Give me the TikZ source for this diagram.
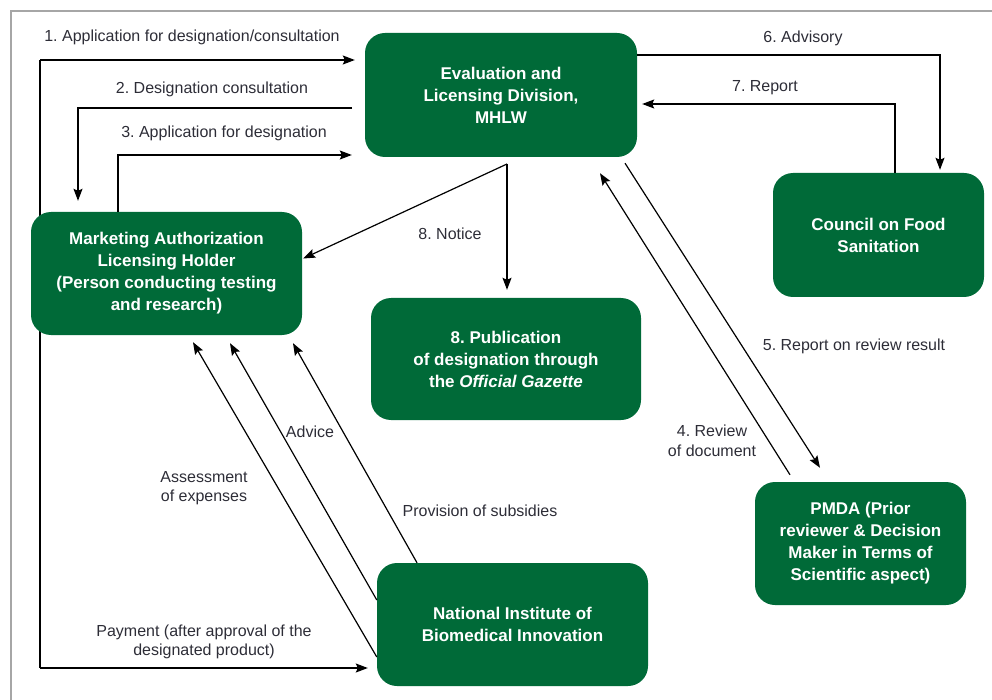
\documentclass[tikz,border=0pt]{standalone}
\usepackage{fontspec}
\setmainfont{Liberation Sans}
\usetikzlibrary{arrows.meta}
\definecolor{boxgreen}{RGB}{0,106,56}
\definecolor{labelgray}{RGB}{45,45,55}
\begin{document}
\frenchspacing
\begin{tikzpicture}[x=1pt,y=-1pt,
 box/.style={fill=boxgreen, rounded corners=20pt, text=white, font=\bfseries\fontsize{17}{22}\selectfont\frenchspacing, align=center, inner sep=0pt},
 lbl/.style={text=labelgray, font=\fontsize{16}{19.5}\selectfont\frenchspacing, align=center, inner sep=0pt},
 arr/.style={line width=1.2pt, -{Stealth[length=12pt,width=9pt,inset=2pt]}},
 ln/.style={line width=1.2pt}]
\useasboundingbox (0,0) rectangle (992,700);
\draw[gray!70, line width=2pt] (11,702) -- (11,11) -- (994,11);

\coordinate (c1) at (40,60);
\coordinate (c2) at (40,668);
\coordinate (s2) at (352,108);
\coordinate (c3) at (78,108);
\coordinate (c4) at (118,155);
\coordinate (c6) at (940,55);
\coordinate (c7) at (895,104);
\coordinate (nt) at (507,164);

% left vertical line, passes behind the MAH box
\draw[ln] (c1) -- (c2);

% boxes
\node[box, minimum width=272pt, minimum height=124pt] (eval) at (501,95) {Evaluation and\\Licensing Division,\\MHLW};
\node[box, minimum width=211pt, minimum height=124pt] (council) at (878.5,235) {Council on Food\\Sanitation};
\node[box, minimum width=271pt, minimum height=123pt] (mah) at (166.5,273.5) {Marketing Authorization\\Licensing Holder\\(Person conducting testing\\and research)};
\node[box, minimum width=270pt, minimum height=122pt] (pub) at (506,359) {8. Publication\\of designation through\\the \textit{Official Gazette}};
\node[box, minimum width=211pt, minimum height=123pt] (pmda) at (860.5,543.5) {PMDA (Prior\\reviewer \& Decision\\Maker in Terms of\\Scientific aspect)};
\node[box, minimum width=271pt, minimum height=123pt] (nibi) at (512.5,624.5) {National Institute of\\Biomedical Innovation};

% 1 and payment
\draw[arr, shorten >=10pt] (c1) -- (eval.west |- c1);
\draw[arr, shorten >=9pt] (c2) -- (nibi.west |- c2);
% 2
\draw[arr, shorten >=11pt] (s2) -- (c3) -- (c3 |- mah.north);
% 3
\draw[arr, shorten >=13pt] (c4 |- mah.north) -- (c4) -- (eval.west |- c4);
% 6
\draw[arr, shorten >=3pt] (eval.east |- c6) -- (c6) -- (c6 |- council.north);
% 7
\draw[arr, shorten >=5pt] (c7 |- council.north) -- (c7) -- (eval.east |- c7);
% 8 notice
\draw[arr, shorten >=8pt] (nt) -- (nt |- pub.north);
\draw[arr] (nt) -- ([yshift=15pt,xshift=1pt]mah.east);
% 4 and 5
\draw[arr] ([xshift=-70.5pt,yshift=7pt]pmda.north) -- ([xshift=99pt,yshift=-16pt]eval.south);
\draw[arr] ([xshift=124pt,yshift=-6pt]eval.south) -- ([xshift=-40.5pt,yshift=14pt]pmda.north);
% NIBI to MAH
\draw[arr] ([yshift=-32.5pt]nibi.west) -- ([xshift=26.5pt,yshift=-7pt]mah.south);
\draw[arr] ([yshift=24.5pt]nibi.west) -- ([xshift=63.5pt,yshift=-8pt]mah.south);
\draw[arr] ([xshift=-95.5pt]nibi.north) -- ([xshift=126.5pt,yshift=-8pt]mah.south);

% labels
\node[lbl] (l1) at (192,37) {1. Application for designation/consultation};
\node[lbl] (l2) at (212,89) {2. Designation consultation};
\node[lbl] (l3) at (224,133) {3. Application for designation};
\node[lbl] (l6) at (803,38) {6. Advisory};
\node[lbl] (l7) at (765,88) {7. Report};
\node[lbl] (l8) at (450,234) {8. Notice};
\node[lbl] (l5) at (854,346) {5. Report on review result};
\node[lbl] (l4) at (712,441) {4. Review\\of document};
\node[lbl] (ladv) at (310,432) {Advice};
\node[lbl] (lass) at (204,488) {Assessment\\of expenses};
\node[lbl] (lprov) at (480,511) {Provision of subsidies};
\node[lbl] (lpay) at (204,642) {Payment (after approval of the\\designated product)};
\end{tikzpicture}
\end{document}
